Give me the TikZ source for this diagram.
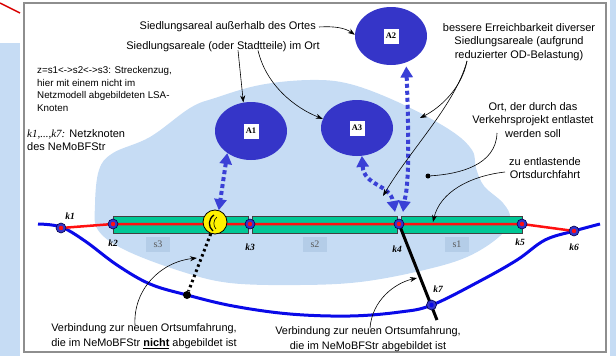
\documentclass[tikz,border=0pt]{standalone}
\usepackage{fontspec}
\setmainfont{Liberation Sans}
\newfontfamily\tms{Liberation Serif}
\usetikzlibrary{arrows.meta,shapes.geometric}
\definecolor{blob}{HTML}{C6DCF4}
\definecolor{ell}{HTML}{3535C8}
\definecolor{bar}{HTML}{00C896}
\definecolor{road}{HTML}{0A0AE8}
\definecolor{darr}{HTML}{3A40D6}
\definecolor{sbox}{HTML}{B4CDE8}
\definecolor{framec}{HTML}{8E8E8E}
\definecolor{redline}{HTML}{FF1010}
\begin{document}
\begin{tikzpicture}[x=1pt,y=-1pt,
 ann/.style={font=\fontsize{11}{13.5}\selectfont, align=center, inner sep=0pt},
 note/.style={-{Stealth[length=7pt,width=5pt]}, line width=0.6pt},
 darrow/.style={line width=4pt, darr, dash pattern=on 4pt off 3pt, {Triangle[length=11pt,width=12pt]}-{Triangle[length=11pt,width=12pt]}},
 knode/.style={circle, fill=ell, draw=black!70!blue, line width=0.6pt, minimum size=10pt, inner sep=0pt},
 klab/.style={font=\tms\bfseries\itshape\fontsize{9.5}{10}\selectfont, inner sep=1pt},
 slab/.style={fill=sbox, text=black!65, font=\tms\fontsize{10}{10}\selectfont, minimum width=24pt, minimum height=15pt, inner sep=0pt},
 area/.style={ellipse, fill=ell, inner sep=0pt, minimum width=72pt, minimum height=58pt},
 alab/.style={fill=white, font=\tms\bfseries\fontsize{8.5}{9}\selectfont, inner sep=1pt, minimum width=15pt, minimum height=15pt},
 barbox/.style={fill=bar, draw=black!75, line width=0.7pt},
]
\useasboundingbox (0,0) rectangle (616,356);
% side panels
\fill[blob] (0,43) rectangle (20,356);
\fill[blob] (610,0) rectangle (616,356);
\draw[red!85!black, line width=1.5pt] (0,3) -- (20,13);
% frame
\draw[framec, line width=1.3pt] (24,3) rectangle (606,352);
% town blob
\fill[blob] plot[smooth cycle, tension=0.6] coordinates {
 (95,205) (99,170) (113,153) (150,137) (190,108) (215,98) (260,85) (310,80)
 (350,84) (400,103) (450,130) (472,150) (476,168) (484,186) (503,203) (510,218)
 (500,236) (467,257) (420,271) (360,282) (300,285) (230,283) (180,271) (125,250) (98,230)};
% bypass road
\draw[road, line width=3pt] plot[smooth, tension=0.6] coordinates {
 (38,224) (61,227) (85,241) (117,265) (150,284) (187,295) (233,306) (290,314)
 (350,316) (400,312) (432,305) (480,281) (517,260) (545,240) (574,231) (600,224)};
% bars
\draw[barbox] (113,216) rectangle (248,233);
\draw[barbox] (252,216) rectangle (397,233);
\draw[barbox] (401,216) rectangle (522,233);
% network nodes
\coordinate (k1) at (61,228);
\coordinate (k2) at (113,224);
\coordinate (k3) at (250,224);
\coordinate (k4) at (399,224);
\coordinate (k5) at (522,224);
\coordinate (k6) at (574,231);
\coordinate (k7) at (431.5,305);
\coordinate (kend) at (437,320);
\draw[redline, line width=2.5pt] (k1) -- (k2) -- (k3) -- (k4) -- (k5) -- (k6);
% connection k4 - k7
\draw[line width=3pt] (k4) -- (kend);
% yellow LSA node and dotted connection
\node[circle, fill=yellow, draw=black, line width=0.8pt, minimum size=24pt, inner sep=0pt] (Y) at (215,222) {};
\draw[line width=1.3pt] (214,215) .. controls (208,219) and (208,227) .. (213,231);
\draw[line width=0.6pt] (217,217) .. controls (213,220) and (213,226) .. (216,229);
\node[circle, fill=black, minimum size=8pt, inner sep=0pt] (bdot) at (187,295) {};
\draw[line width=3pt, dash pattern=on 2.5pt off 3pt] (Y.250) -- (bdot);
% k markers
\foreach \k in {k1,k2,k3,k4,k5,k6} {
  \node[knode] at (\k) {};
  \fill[redline] (\k) circle (2.2pt);
}
\node[knode] at (k7) {};
\fill[road] (k7) circle (2.2pt);
% k labels
\node[klab] at (70,216) {k1};
\node[klab] at (113,243) {k2};
\node[klab] at (250,247) {k3};
\node[klab] at (397,249) {k4};
\node[klab] at (520,242) {k5};
\node[klab] at (574,247) {k6};
\node[klab] at (438,289) {k7};
% s labels
\node[slab] at (158,244) {s3};
\node[slab] at (315,244) {s2};
\node[slab] at (457,244) {s1};
% areas
\node[area] (A1) at (251,131) {};
\node[alab] at (A1) {A1};
\node[area] (A2) at (391,36) {};
\node[alab] at (A2) {A2};
\node[area, minimum height=56pt] (A3) at (357,128) {};
\node[alab] at (A3) {A3};
% dotted double arrows
\draw[darrow] (A1.223) -- (Y.72);
\draw[darrow] (A3.280) .. controls (364,186) and (390,184) .. ([xshift=-4pt,yshift=12pt]k4);
\draw[darrow] ([yshift=-4pt]A2.300) .. controls (411,190) and (405,196) .. ([xshift=4pt,yshift=12pt]k4);
% annotation texts
\node[ann, anchor=east] (T1) at (316,27) {Siedlungsareal außerhalb des Ortes};
\node[ann] (T2) at (223,47) {Siedlungsareale (oder Stadtteile) im Ort};
\node[anchor=north west, align=left, inner sep=0pt, font=\fontsize{9.8}{12.7}\selectfont] (T3) at (37,66)
 {z=s1<->s2<->s3: Streckenzug,\\hier mit einem nicht im\\Netzmodell abgebildeten LSA-\\Knoten};
\node[anchor=north west, align=left, inner sep=0pt, font=\fontsize{11}{13}\selectfont] (T4) at (27,129)
 {{\tms\itshape k1,...,k7:} Netzknoten\\des NeMoBFStr};
\node[ann] (T5) at (519,42) {bessere Erreichbarkeit diverser\\Siedlungsareale (aufgrund\\reduzierter OD-Belastung)};
\node[ann] (T6) at (533,120) {Ort, der durch das\\Verkehrsprojekt entlastet\\werden soll};
\node[ann] (T7) at (545,168) {zu entlastende\\Ortsdurchfahrt};
\node[ann, font=\fontsize{10.9}{15}\selectfont] (T8) at (144,336) {Verbindung zur neuen Ortsumfahrung,\\die im NeMoBFStr \underline{\textbf{nicht}} abgebildet ist};
\node[ann, font=\fontsize{10.9}{15}\selectfont] (T9) at (368,339) {Verbindung zur neuen Ortsumfahrung,\\die im NeMoBFStr abgebildet ist};
% annotation connectors
\draw[note] ([xshift=3pt]T1.east) .. controls (335,26) and (345,28) .. (A2.178);
\draw[note] ([xshift=15pt,yshift=2pt]T2.south) -- (A1.105);
\draw[note] ([xshift=35pt,yshift=2pt]T2.south) .. controls (266,85) and (295,108) .. (A3.165);
\coordinate (t5s) at (467,61);
\coordinate (p1) at (420,118);
\coordinate (p2) at (383,196);
\draw[note] (t5s) .. controls (462,88) and (440,108) .. (p1);
\draw[note] (t5s) .. controls (455,105) and (410,150) .. (p2);
\coordinate (t6s) at (497,133);
\node[circle, fill=black, minimum size=5pt, inner sep=0pt] (odot) at (428,176) {};
\draw[line width=0.6pt] (t6s) .. controls (496,165) and (460,174) .. (odot);
\coordinate (t7s) at (505,172);
\coordinate (p3) at (433,222);
\draw[note] (t7s) .. controls (470,176) and (440,192) .. (p3);
\coordinate (p4) at (197,258);
\draw[note] ([xshift=-9pt,yshift=-2pt]T8.north) .. controls (133,290) and (160,262) .. (p4);
\coordinate (p5) at (417,278);
\draw[note] ([xshift=2pt,yshift=-2pt]T9.north) .. controls (372,300) and (395,283) .. (p5);
\end{tikzpicture}
\end{document}
